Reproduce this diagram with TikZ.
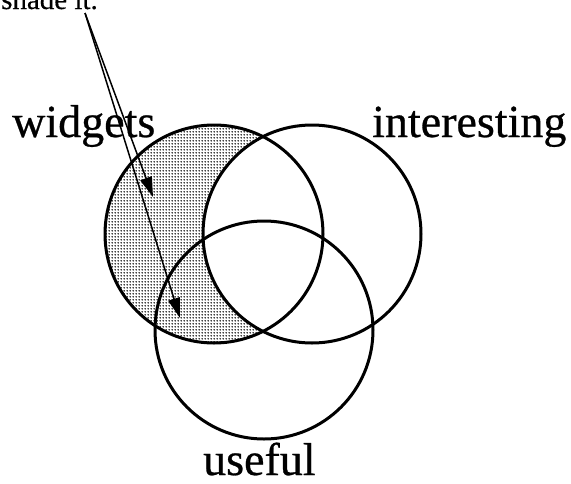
\documentclass[tikz,border=0pt]{standalone}
\usepackage{fontspec}
\setmainfont{Liberation Serif}
\usetikzlibrary{arrows.meta,patterns.meta}
\tikzdeclarepattern{
  name=mydots,
  type=uncolored,
  bounding box={(0pt,0pt) and (3pt,3pt)},
  tile size={(3pt,3pt)},
  code={\fill (1.5pt,1.5pt) circle (1pt);}
}
\begin{document}
\begin{tikzpicture}[x=1pt,y=-1pt,
  ring/.style={draw=black,line width=3pt},
  label/.style={font=\fontsize{46}{46}\selectfont\addfontfeatures{FakeBold=0.6},inner sep=0pt},
  pointer/.style={draw=black,line width=1.5pt,-{Triangle[length=20pt,width=12pt]}},
  shaded/.style={pattern=mydots,pattern color=black}]
\useasboundingbox (0,0) rectangle (571,483);
\fill[white] (0,0) rectangle (571,483);
\coordinate (W) at (214,234);
\coordinate (I) at (312,234);
\coordinate (U) at (264,330);
% shaded region: widgets minus interesting
\begin{scope}
  \clip (W) circle [radius=109pt];
  \fill[shaded,even odd rule] (90,110) rectangle (340,360) (I) circle [radius=109pt];
\end{scope}
\draw[ring] (W) circle [radius=109pt];
\draw[ring] (I) circle [radius=109pt];
\draw[ring] (U) circle [radius=109pt];
% labels
\node[label,anchor=base west] (lw) at (12,137) {widgets};
\node[label,anchor=base west] (li) at (372,137) {interesting};
\node[label,anchor=base west,text depth=0pt] (lu) at (203,475) {useful};
\node[font=\fontsize{29}{29}\selectfont\addfontfeatures{FakeBold=0.4},inner sep=0pt,anchor=base east] (sh) at (98,9) {shade it.};
% arrows
\coordinate (s) at (85,13);
\coordinate (t1) at (153,197);
\coordinate (t2) at (180,318);
\draw[pointer] (s) -- (t1);
\draw[pointer] (s) -- (t2);
\end{tikzpicture}
\end{document}
